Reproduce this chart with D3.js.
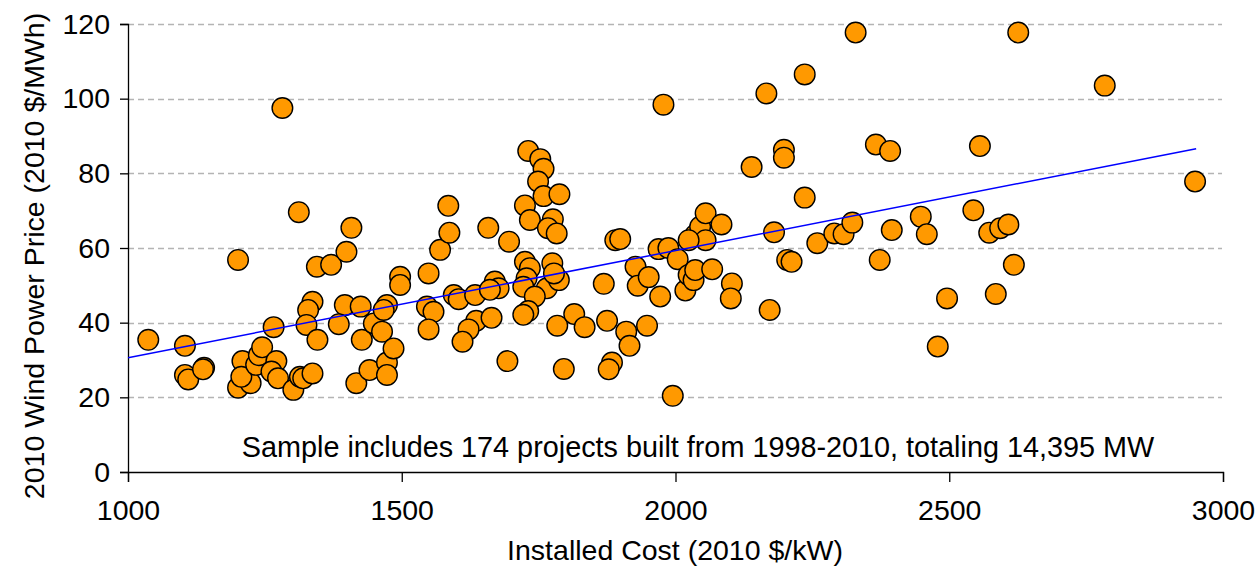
<!DOCTYPE html>
<html>
<head>
<meta charset="utf-8">
<script src="https://d3js.org/d3.v7.min.js"></script>
<style>
  body { margin: 0; background: #fff; }
  text { font-family: "Liberation Sans", Arial, sans-serif; fill: #000; }
</style>
</head>
<body>
<div id="chart"></div>
<script>
// installed cost ($/kW) and wind power price ($/MWh) for each project
var costs = [1037,1104,1104,1110,1139,1137,1201,1209,1201,1224,1207,1234,1239,1245,1271,1266,1262,1274,1282,1302,
  1312,1314,1320,1337,1345,1371,1399,1408,1337,1329,1326,1346,1396,1385,1425,1427,1417,1441,1449,1464,
  1473,1467,1473,1473,1485,1497,1497,1549,1546,1558,1549,1570,1585,1587,1595,1604,1634,1658,1670,1677,
  1661,1636,1664,1622,1611,1693,1696,1725,1731,1753,1759,1749,1759,1788,1734,1776,1767,1783,1725,1734,
  1775,1728,1722,1765,1787,1778,1743,1731,1722,1784,1815,1834,1796,1869,1875,1910,1916,1948,1884,1878,
  1995,1927,1931,1951,1972,1890,1899,1969,1987,2004,1978,2018,2024,2033,2036,2067,2103,2101,2172,2204,
  2212,2036,2045,2055,2024,2055,2084,2139,2166,2198,2198,2236,2329,2236,2180,2259,2290,2307,2323,2366,
  2392,2395,2448,2459,2373,2496,2479,2544,2556,2573,2593,2608,2585,2618,2626,2784,2949];
var prices = [35.4,33.8,26.0,24.8,27.9,27.5,56.8,29.7,22.6,23.8,25.5,28.7,31.3,33.4,29.7,38.8,26.9,25.1,97.5,22.0,
  69.6,25.5,25.1,26.4,55.0,55.5,59.0,65.4,45.6,43.4,39.4,35.4,44.7,39.6,44.3,35.4,23.8,27.3,39.8,37.6,
  44.7,43.4,29.3,26.0,33.1,52.3,50.1,53.2,44.3,42.9,38.2,59.5,71.3,64.1,47.4,46.3,47.4,65.4,51.0,49.2,
  48.8,40.5,41.3,38.2,34.9,29.7,61.7,71.4,86.0,83.8,81.2,77.8,73.9,74.4,67.5,67.7,65.3,63.9,56.3,54.6,
  55.9,51.9,49.6,49.2,51.4,53.2,47.0,43.1,42.1,39.2,42.3,38.8,27.6,50.4,40.5,37.6,33.8,39.2,29.3,27.5,
  20.4,55.0,49.9,52.2,47.0,62.1,62.4,59.7,60.0,57.0,98.4,48.6,52.8,51.4,54.1,54.3,50.5,46.5,43.4,56.8,
  56.3,63.5,65.7,62.1,62.1,69.3,66.3,81.7,101.4,86.3,84.2,106.5,117.7,73.5,64.2,61.3,63.9,63.7,66.8,87.7,
  86.0,64.8,68.4,63.7,56.8,46.5,33.6,70.1,87.3,64.1,65.3,66.3,47.7,55.5,117.7,103.5,77.8];

// linear trend line end points
var trendX = [1000, 2951];
var trendY = [30.6, 86.6];

var xTicks = [1000, 1500, 2000, 2500, 3000];
var yTicks = [0, 20, 40, 60, 80, 100, 120];
var note = "Sample includes 174 projects built from 1998-2010, totaling 14,395 MW";

var width = 1257, height = 567;
var plotLeft = 128, plotRight = 1223, plotTop = 24, plotBottom = 472;

var svg = d3.select("#chart").append("svg").attr("width", width).attr("height", height);

var x = d3.scaleLinear().domain([1000, 3000]).range([plotLeft, plotRight]);
var y = d3.scaleLinear().domain([0, 120]).range([plotBottom, plotTop]);

// dashed gridlines
svg.selectAll(".grid").data(yTicks.filter(function(d) { return d > 0; })).enter().append("line")
  .attr("x1", plotLeft).attr("x2", plotRight - 1)
  .attr("y1", function(d) { return Math.round(y(d)) + 0.5; })
  .attr("y2", function(d) { return Math.round(y(d)) + 0.5; })
  .attr("stroke", "#b4b4b4").attr("stroke-width", 1.5).attr("stroke-dasharray", "6,4");

// axes
var xAxis = svg.append("g").attr("transform", "translate(0," + plotBottom + ")")
  .call(d3.axisBottom(x).tickValues(xTicks).tickFormat(d3.format("d")).tickSize(10).tickPadding(12));
var yAxis = svg.append("g").attr("transform", "translate(" + plotLeft + ",0)")
  .call(d3.axisLeft(y).tickValues(yTicks).tickFormat(d3.format("d")).tickSize(8).tickPadding(10));
[xAxis, yAxis].forEach(function(g) {
  g.select(".domain").attr("stroke", "#000").attr("stroke-width", 1.3);
  g.selectAll(".tick line").attr("stroke", "#000").attr("stroke-width", 1.3);
  g.selectAll(".tick text").style("font-size", "28.5px").style("font-family", "Liberation Sans, Arial, sans-serif").attr("fill", "#000");
});
xAxis.selectAll(".tick text").attr("dy", "0.9em");

// points
var pts = costs.map(function(c, i) { return {c: c, p: prices[i]}; });
svg.selectAll(".pt").data(pts).enter().append("circle")
  .attr("cx", function(d) { return x(d.c); })
  .attr("cy", function(d) { return y(d.p); })
  .attr("r", 10.3)
  .attr("fill", "#ff9900").attr("stroke", "#000").attr("stroke-width", 1.4);

// trend line
svg.append("line")
  .attr("x1", x(trendX[0])).attr("y1", y(trendY[0]))
  .attr("x2", x(trendX[1])).attr("y2", y(trendY[1]))
  .attr("stroke", "#0000ff").attr("stroke-width", 1.5);

// annotation and titles
svg.append("text").attr("x", 698).attr("y", 457).attr("text-anchor", "middle")
  .style("font-size", "28.8px").text(note);
svg.append("text").attr("x", 675).attr("y", 560).attr("text-anchor", "middle")
  .style("font-size", "28.5px").text("Installed Cost (2010 $/kW)");
svg.append("text").attr("transform", "translate(44,256) rotate(-90)").attr("text-anchor", "middle")
  .style("font-size", "28.5px").text("2010 Wind Power Price (2010 $/MWh)");
</script>
</body>
</html>
